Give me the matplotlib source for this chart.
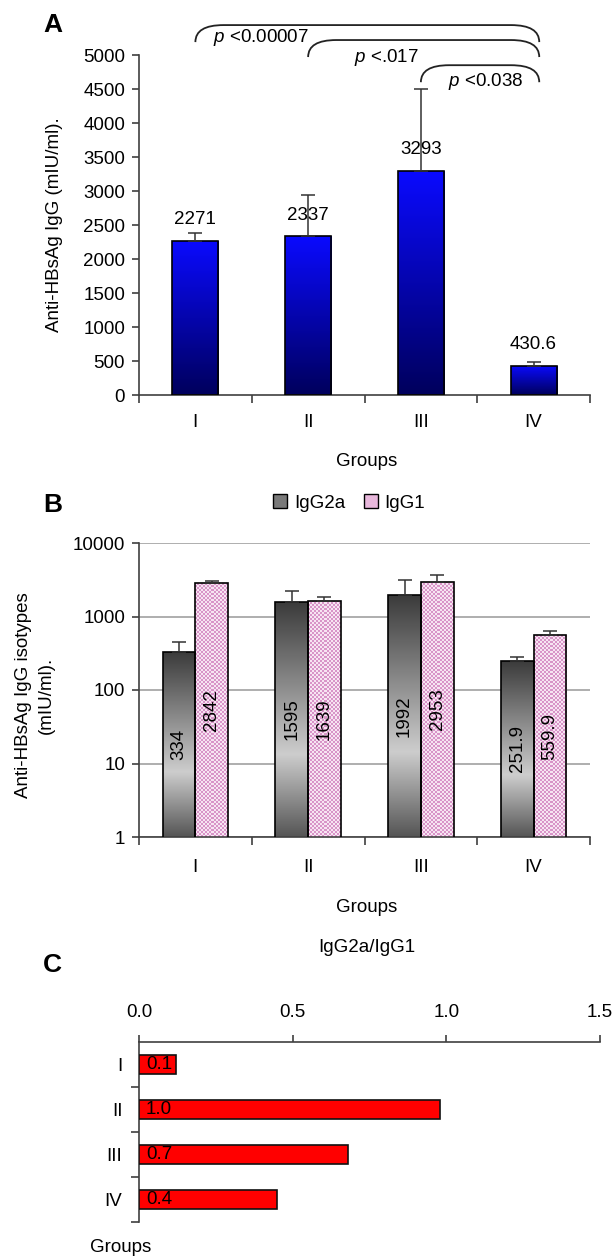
import numpy as np
import matplotlib
matplotlib.use("Agg")
import matplotlib.pyplot as plt
from matplotlib.colors import LinearSegmentedColormap, ListedColormap
from matplotlib.patches import Patch, PathPatch
from matplotlib.path import Path

plt.rcParams["font.family"] = ["Liberation Sans", "DejaVu Sans"]
plt.rcParams["mathtext.fontset"] = "custom"
plt.rcParams["mathtext.rm"] = "Liberation Sans"
plt.rcParams["mathtext.it"] = "Liberation Sans:italic"

groups = ["I", "II", "III", "IV"]

# Panel A - total anti-HBsAg IgG (mIU/ml)
igg_total = [2271, 2337, 3293, 430.6]
igg_total_err = [110, 605, 1205, 55]
igg_total_labels = ["2271", "2337", "3293", "430.6"]

# significance brackets between groups
pairs = [(0, 3), (1, 3), (2, 3)]
p_labels = ["<0.00007", "<.017", "<0.038"]

# Panel B - isotypes (log scale)
igg2a = [334, 1595, 1992, 251.9]
igg2a_err = [116, 625, 1148, 29]
igg1 = [2842, 1639, 2953, 559.9]
igg1_err = [198, 203, 717, 73]
igg2a_labels = ["334", "1595", "1992", "251.9"]
igg1_labels = ["2842", "1639", "2953", "559.9"]

# Panel C - IgG2a/IgG1 ratio
ratio = [0.12, 0.98, 0.68, 0.45]
ratio_labels = ["0.1", "1.0", "0.7", "0.4"]

AX_COL = "#404040"
FS = 13.5
W, H = 612, 1260


def style_axes(ax):
    for s in ax.spines.values():
        s.set_color(AX_COL)
        s.set_linewidth(1.2)
    ax.tick_params(colors=AX_COL, labelcolor="black", width=1.2, labelsize=FS)


def bar_extent(ax, bar):
    # bar corners in axes fraction, so images also work on the log axis
    x0, y0 = bar.get_x(), bar.get_y()
    x1, y1 = x0 + bar.get_width(), y0 + bar.get_height()
    to_ax = ax.transAxes.inverted()
    ax0, ay0 = to_ax.transform(ax.transData.transform((x0, max(y0, ax.get_ylim()[0]))))
    ax1, ay1 = to_ax.transform(ax.transData.transform((x1, y1)))
    return [ax0, ax1, ay0, ay1]


def gradient_bar(ax, bar, colors, zorder=2):
    cmap = LinearSegmentedColormap.from_list("g", colors)
    grad = np.linspace(0, 1, 256).reshape(-1, 1)
    im = ax.imshow(grad, cmap=cmap, aspect="auto", origin="lower",
                   extent=bar_extent(ax, bar), transform=ax.transAxes,
                   zorder=zorder, interpolation="bicubic")
    im.set_clip_path(bar)


def checker_bar(ax, bar, colors, cell_px=2, zorder=2):
    ext = bar_extent(ax, bar)
    bb = ax.get_window_extent()
    nx = max(1, int(round((ext[1] - ext[0]) * bb.width / cell_px)))
    ny = max(1, int(round((ext[3] - ext[2]) * bb.height / cell_px)))
    ii, jj = np.indices((ny, nx))
    im = ax.imshow((ii + jj) % 2, cmap=ListedColormap(colors), aspect="auto",
                   origin="lower", extent=ext, transform=ax.transAxes,
                   zorder=zorder, interpolation="nearest")
    im.set_clip_path(bar)


fig = plt.figure(figsize=(W / 100, H / 100), dpi=100)


def box(x0, y0, x1, y1):
    return [x0 / W, 1 - y1 / H, (x1 - x0) / W, (y1 - y0) / H]


x = np.arange(len(groups))

# ---------------- Panel A
axA = fig.add_axes(box(139, 55, 590, 395))
style_axes(axA)
axA.set_xlim(-0.5, 3.5)
axA.set_ylim(0, 5000)
axA.set_yticks(np.arange(0, 5001, 500))
barsA = axA.bar(x, igg_total, width=0.41, color="none", edgecolor="black",
                linewidth=1.2, zorder=3)
for b in barsA:
    gradient_bar(axA, b, ["#00005c", "#0a0aff"])
axA.errorbar(x, igg_total, yerr=[np.zeros(4), igg_total_err], fmt="none",
             ecolor="#333333", elinewidth=1.1, capsize=5, capthick=1.1, zorder=4)
for xi, v, lab in zip(x, igg_total, igg_total_labels):
    axA.text(xi, v + 310, lab, ha="center", va="center", fontsize=FS, zorder=5)

axA.set_xticks(x)
axA.set_xticklabels(groups)
axA.set_xticks(np.arange(-0.5, 4, 1), minor=True)
axA.tick_params(axis="x", which="major", length=0, pad=14)
axA.tick_params(axis="x", which="minor", length=6, width=1.2, colors=AX_COL)
axA.tick_params(axis="y", length=5, pad=5)
for s in ["top", "right"]:
    axA.spines[s].set_visible(False)

# brackets with p values
bracket_tops = [5440, 5220, 4850]
text_pos = [(0.16, 5250), (0.41, 4970), (0.24, 4603)]
for (g0, g1), top, lab, (dx, ty) in zip(pairs, bracket_tops, p_labels, text_pos):
    xl, xr = g0, g1 + 0.05
    bot = top - 250
    rx = 0.25
    verts = [(xl, bot), (xl, top), (xl + rx, top), (xr - rx, top),
             (xr, top), (xr, bot)]
    codes = [Path.MOVETO, Path.CURVE3, Path.CURVE3, Path.LINETO,
             Path.CURVE3, Path.CURVE3]
    axA.add_patch(PathPatch(Path(verts, codes), facecolor="none",
                            edgecolor="#222222", linewidth=1.3, clip_on=False))
    axA.text(g0 + dx, ty, r"$\it{p}$ " + lab, ha="left", va="center",
             fontsize=FS, clip_on=False)

fig.text(43 / W, 1 - 25 / H, "A", fontsize=19, fontweight="bold", va="center")
fig.text(55 / W, 1 - 225 / H, "Anti-HBsAg IgG (mIU/ml).", rotation=90,
         ha="center", va="center", fontsize=FS)
fig.text(367 / W, 1 - 462 / H, "Groups", ha="center", va="center", fontsize=FS)

# ---------------- Panel B
axB = fig.add_axes(box(139, 543, 590, 837))
style_axes(axB)
axB.set_yscale("log")
axB.set_xlim(-0.5, 3.5)
axB.set_ylim(1, 10000)
axB.set_yticks([1, 10, 100, 1000, 10000])
axB.set_yticklabels(["1", "10", "100", "1000", "10000"])
axB.yaxis.set_minor_locator(matplotlib.ticker.NullLocator())
axB.yaxis.grid(True, color="#a8a8a8", linewidth=1.3)
axB.set_axisbelow(True)

bw = 0.29
xa, xb = x - bw / 2, x + bw / 2
bars2a = axB.bar(xa, igg2a, width=bw, color="none", edgecolor="black",
                 linewidth=1.2, zorder=3)
for b in bars2a:
    gradient_bar(axB, b, [(0, "#555555"), (0.35, "#cdcdcd"), (1, "#3a3a3a")])
bars1 = axB.bar(xb, igg1, width=bw, color="none", edgecolor="black",
                linewidth=1.2, zorder=3)
for b in bars1:
    checker_bar(axB, b, ["#f7e4f2", "#d894c8"])
axB.errorbar(xa, igg2a, yerr=[np.zeros(4), igg2a_err], fmt="none",
             ecolor="#333333", elinewidth=1.1, capsize=5, capthick=1.1, zorder=4)
axB.errorbar(xb, igg1, yerr=[np.zeros(4), igg1_err], fmt="none",
             ecolor="#333333", elinewidth=1.1, capsize=5, capthick=1.1, zorder=4)
for xs, vals, labs in [(xa, igg2a, igg2a_labels), (xb, igg1, igg1_labels)]:
    for xi, v, lab in zip(xs, vals, labs):
        axB.text(xi, np.sqrt(v), lab, rotation=90, ha="center", va="center",
                 fontsize=FS, zorder=5)

axB.set_xticks(x)
axB.set_xticklabels(groups)
axB.set_xticks(np.arange(-0.5, 4, 1), minor=True)
axB.tick_params(axis="x", which="major", length=0, pad=16)
axB.tick_params(axis="x", which="minor", length=6, width=1.2, colors=AX_COL)
axB.tick_params(axis="y", which="major", length=5, pad=5)
for s in ["top", "right"]:
    axB.spines[s].set_visible(False)

handles = [Patch(facecolor="#7a7a7a", edgecolor="black", linewidth=1),
           Patch(facecolor="#e8b8dc", edgecolor="black", linewidth=1)]
axB.legend(handles, ["IgG2a", "IgG1"], loc="center", ncol=2, frameon=False,
           bbox_to_anchor=(0.466, 1.136), fontsize=FS, handlelength=0.75,
           handleheight=0.75, handletextpad=0.35, columnspacing=1.0)

fig.text(43 / W, 1 - 505 / H, "B", fontsize=19, fontweight="bold", va="center")
fig.text(35 / W, 1 - 695 / H, "Anti-HBsAg IgG isotypes\n(mIU/ml).", rotation=90,
         ha="center", va="center", fontsize=FS, linespacing=1.45,
         multialignment="center")
fig.text(367 / W, 1 - 907 / H, "Groups", ha="center", va="center", fontsize=FS)

# ---------------- Panel C
axC = fig.add_axes(box(139, 1042, 600, 1222))
style_axes(axC)
axC.set_xlim(0, 1.5)
axC.set_ylim(3.5, -0.5)
axC.barh(x, ratio, height=0.42, color="#ff0000", edgecolor="#111111",
         linewidth=1.2, zorder=3)
for yi, lab in zip(x, ratio_labels):
    axC.text(0.023, yi, lab, ha="left", va="center", fontsize=FS, zorder=4)

axC.xaxis.tick_top()
axC.set_xticks([0, 0.5, 1.0, 1.5])
axC.set_xticklabels(["0.0", "0.5", "1.0", "1.5"])
axC.tick_params(axis="x", length=5, pad=10)
axC.set_yticks(x)
axC.set_yticklabels(groups)
axC.set_yticks(np.arange(0.5, 4, 1), minor=True)
axC.tick_params(axis="y", which="major", length=0, pad=12)
axC.tick_params(axis="y", which="minor", length=6, width=1.2, colors=AX_COL)
for s in ["bottom", "right"]:
    axC.spines[s].set_visible(False)

fig.text(43 / W, 1 - 965 / H, "C", fontsize=19, fontweight="bold", va="center")
fig.text(367 / W, 1 - 948 / H, "IgG2a/IgG1", ha="center", va="center", fontsize=FS)
fig.text(121 / W, 1 - 1248 / H, "Groups", ha="center", va="center", fontsize=FS)

fig.savefig("out.png", dpi=100)
